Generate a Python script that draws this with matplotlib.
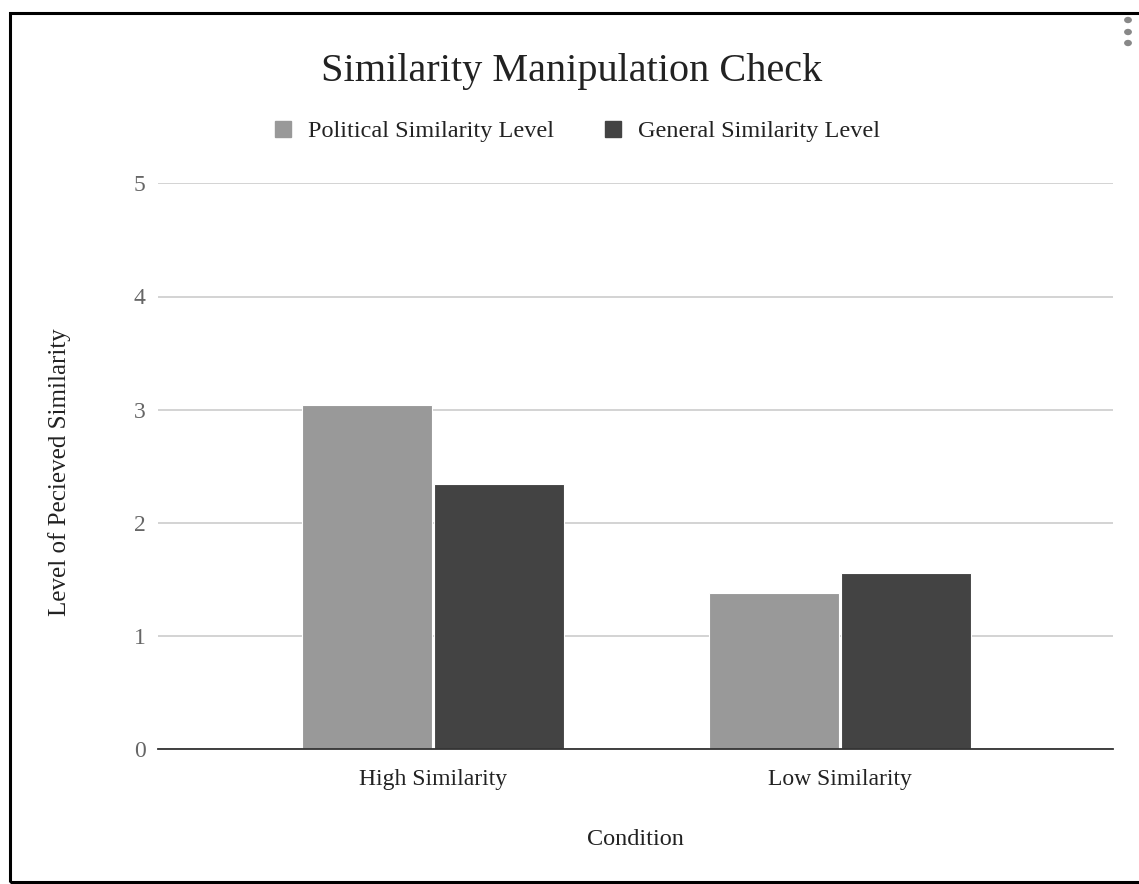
import numpy as np
import matplotlib.pyplot as plt
from matplotlib.patches import Rectangle, Circle
from matplotlib.lines import Line2D

conditions = ['High Similarity', 'Low Similarity']
series_names = ['Political Similarity Level', 'General Similarity Level']
political = [3.04, 1.38]
general = [2.34, 1.56]
y_ticks = [0, 1, 2, 3, 4, 5]

colors = ['#999999', '#434343']

plt.rcParams['font.family'] = ['Liberation Serif', 'DejaVu Serif']

fig = plt.figure(figsize=(11.39, 8.84), dpi=100)
ax = fig.add_axes([158 / 1139, 1 - 749.3 / 884, (1113 - 158) / 1139, (749.3 - 183.3) / 884])

x = np.arange(len(conditions))
w = 0.32
ax.bar(x - w / 2 - 0.002, political, w, color=colors[0], edgecolor='white', linewidth=0.8, zorder=3)
ax.bar(x + w / 2 + 0.002, general, w, color=colors[1], edgecolor='white', linewidth=0.8, zorder=3)

ax.set_xlim(-0.676, 1.671)
ax.set_ylim(0, 5)
ax.set_yticks(y_ticks)
ax.set_xticks(x)
ax.set_xticklabels(conditions)
ax.grid(axis='y', color='#cccccc', linewidth=1.2, zorder=0)
for s in ['top', 'right', 'left']:
    ax.spines[s].set_visible(False)
ax.spines['bottom'].set_color('#333333')
ax.spines['bottom'].set_linewidth(1.3)
ax.spines['bottom'].set_zorder(4)
ax.tick_params(axis='y', length=0, pad=9, labelsize=17, labelcolor='#666666')
ax.tick_params(axis='x', length=0, pad=14, labelsize=17, labelcolor='#222222')

ax.set_xlabel('Condition', fontsize=17.5, color='#222222', labelpad=28)
ax.set_ylabel('Level of Pecieved Similarity', fontsize=18, color='#222222')
ax.yaxis.set_label_coords(-0.091, 0.49)

fig.text(0.502, 1 - 72 / 884, 'Similarity Manipulation Check', ha='center', va='center',
         fontsize=29, color='#222222')

handles = [Line2D([], [], marker='s', linestyle='', markersize=12, color=c) for c in colors]
fig.legend(handles, series_names, loc='center', bbox_to_anchor=(0.5, 1 - 131 / 884),
           ncol=2, frameon=False, fontsize=17.5, handletextpad=0.05, columnspacing=1.4,
           labelcolor='#222222')

# frame around the whole chart (right side runs past the edge)
fig.patches.append(Rectangle((9.5 / 1139, 1 - 882 / 884), (1150 - 9.5) / 1139, (882 - 12.5) / 884,
                             transform=fig.transFigure, fill=False, edgecolor='black', linewidth=2.2))
# menu dots
for yy in [20, 32, 43]:
    fig.patches.append(Circle((1128 / 1139, 1 - yy / 884), 3.2 / 1139, transform=fig.transFigure,
                              color='#888888'))

fig.savefig('out.png', dpi=100)
